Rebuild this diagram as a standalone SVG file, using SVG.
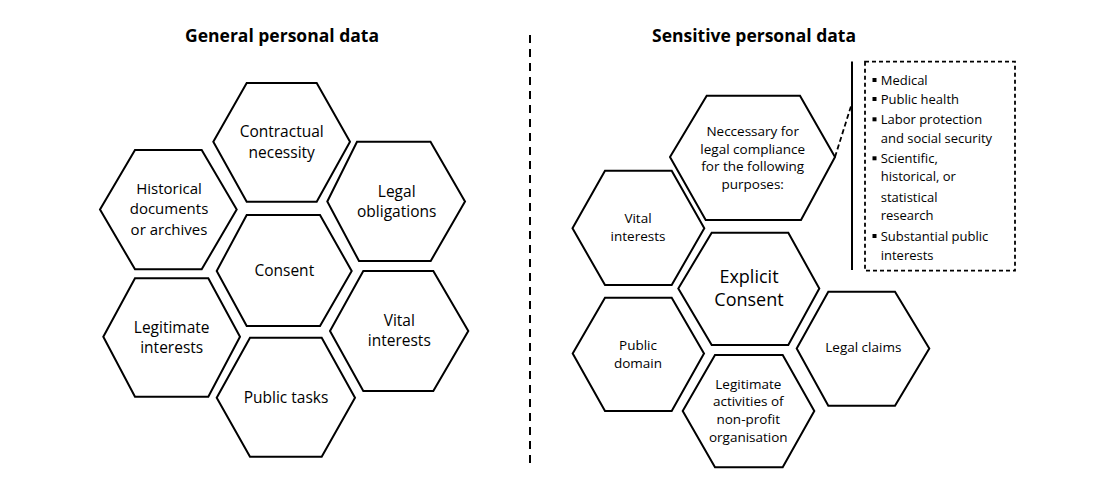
<svg xmlns="http://www.w3.org/2000/svg" width="1100" height="500" viewBox="0 0 1100 500">
  <style>
    .hex { fill: #ffffff; stroke: #000000; stroke-width: 2; stroke-linejoin: miter; }
    .t { font-family: "Open Sans", "Liberation Sans", sans-serif; fill: #000000; text-anchor: middle; }
    .tl { font-size: 15.5px; }
    .tm { font-size: 15px; }
    .tr { font-size: 13.5px; }
    .big { font-size: 18px; }
    .title { font-family: "Open Sans", "Liberation Sans", sans-serif; font-weight: bold; font-size: 17.5px; fill: #000000; text-anchor: middle; }
    .li { font-family: "Open Sans", "Liberation Sans", sans-serif; font-size: 13px; fill: #000000; }
    .bul { fill: #000000; }
  </style>
  <rect width="1100" height="500" fill="#ffffff"/>

  <text class="title" x="282" y="42">General personal data</text>
  <text class="title" x="754" y="42">Sensitive personal data</text>

  <g id="connectors">
    <line x1="530" y1="35" x2="530" y2="463" stroke="#000" stroke-width="2" stroke-dasharray="8,6"/>
    <line x1="852" y1="61.5" x2="852" y2="270" stroke="#000" stroke-width="2"/>
    <line x1="835" y1="157" x2="852" y2="103" stroke="#000" stroke-width="1.8" stroke-dasharray="5,3"/>
  </g>

  <!-- Left side -->
  <g id="contractual-necessity">
    <polygon class="hex" points="213.3,141.7 246.7,83 316.7,83 350,141.7 316.7,201.7 246.7,201.7"/>
    <text class="t tl" x="281.7" y="137">Contractual</text>
    <text class="t tl" x="281.7" y="158">necessity</text>
  </g>
  <g id="historical-documents">
    <polygon class="hex" points="100,209.5 135,150 201.7,150 236.7,209.5 201.7,269.3 135,269.3"/>
    <text class="t tm" x="169" y="193.5">Historical</text>
    <text class="t tm" x="169" y="214">documents</text>
    <text class="t tm" x="169" y="234.5">or archives</text>
  </g>
  <g id="legal-obligations">
    <polygon class="hex" points="327.3,201.5 357,141.7 430.5,141.7 465,201.5 430.7,261 359,261"/>
    <text class="t tl" x="396.7" y="197">Legal</text>
    <text class="t tl" x="396.7" y="217">obligations</text>
  </g>
  <g id="consent">
    <polygon class="hex" points="216.7,271 246.7,215 320,215 351.7,271 320,326 246.7,326"/>
    <text class="t tl" x="284.3" y="276.4">Consent</text>
  </g>
  <g id="legitimate-interests">
    <polygon class="hex" points="103.3,336.7 135,278.3 208.3,278.3 240,336.7 208.3,396.7 135,396.7"/>
    <text class="t tl" x="171.7" y="332.7">Legitimate</text>
    <text class="t tl" x="171.7" y="352.7">interests</text>
  </g>
  <g id="vital-interests-left">
    <polygon class="hex" points="330,331 363.3,271 433.3,271 468.3,331 433.3,391 363.3,391"/>
    <text class="t tl" x="399.3" y="326">Vital</text>
    <text class="t tl" x="399.3" y="346">interests</text>
  </g>
  <g id="public-tasks">
    <polygon class="hex" points="216.7,397.7 250,337.7 321.7,337.7 355,397.7 321.7,456.7 250,456.7"/>
    <text class="t tl" x="286" y="403">Public tasks</text>
  </g>

  <!-- Right side -->
  <g id="legal-compliance">
    <polygon class="hex" points="670,157 706.7,95.7 800,95.7 835,157 801,220 705.7,220"/>
    <text class="t tr" x="752.7" y="136">Neccessary for</text>
    <text class="t tr" x="752.7" y="153.5">legal compliance</text>
    <text class="t tr" x="752.7" y="171">for the following</text>
    <text class="t tr" x="752.7" y="189">purposes:</text>
  </g>
  <g id="vital-interests-right">
    <polygon class="hex" points="572.5,228.3 605,170.7 671.7,170.7 704.3,228.3 671.7,285 605,285"/>
    <text class="t tr" x="638" y="223">Vital</text>
    <text class="t tr" x="638" y="240.7">interests</text>
  </g>
  <g id="explicit-consent">
    <polygon class="hex" points="678.3,288.5 711.7,232.7 788.3,232.7 819.3,288.5 788.3,345 711.7,345"/>
    <text class="t big" x="749" y="283">Explicit</text>
    <text class="t big" x="749" y="305.6">Consent</text>
  </g>
  <g id="public-domain">
    <polygon class="hex" points="572.7,353.5 605,297.7 671.7,297.7 704,353.5 671.7,411 605,411"/>
    <text class="t tr" x="638" y="349.7">Public</text>
    <text class="t tr" x="638" y="368">domain</text>
  </g>
  <g id="legal-claims">
    <polygon class="hex" points="796.7,348.5 828.3,291.7 895,291.7 929.3,348.5 895,405.7 828.3,405.7"/>
    <text class="t tr" x="863.3" y="352.4">Legal claims</text>
  </g>
  <g id="nonprofit-activities">
    <polygon class="hex" points="682.7,411 715,355 782.7,355 814.3,411 782.7,467.3 715,467.3"/>
    <text class="t tr" x="748.3" y="389">Legitimate</text>
    <text class="t tr" x="748.3" y="406.4">activities of</text>
    <text class="t tr" x="748.3" y="424">non-profit</text>
    <text class="t tr" x="748.3" y="442">organisation</text>
  </g>

  <g id="purposes-list">
    <rect x="865" y="61.7" width="150" height="209" fill="none" stroke="#000" stroke-width="1.8" stroke-dasharray="4,3"/>
    <rect class="bul" x="872.5" y="78" width="4" height="4"/>
    <rect class="bul" x="872.5" y="97" width="4" height="4"/>
    <rect class="bul" x="872.5" y="117.3" width="4" height="4"/>
    <rect class="bul" x="872.5" y="156.3" width="4" height="4"/>
    <rect class="bul" x="872.5" y="234" width="4" height="4"/>
    <text class="li" x="880.7" y="84.6">Medical</text>
    <text class="li" x="880.7" y="103.6">Public health</text>
    <text class="li" x="880.7" y="124">Labor protection</text>
    <text class="li" x="880.7" y="143">and social security</text>
    <text class="li" x="880.7" y="163">Scientific,</text>
    <text class="li" x="880.7" y="181.3">historical, or</text>
    <text class="li" x="880.7" y="202">statistical</text>
    <text class="li" x="880.7" y="220.4">research</text>
    <text class="li" x="880.7" y="240.6">Substantial public</text>
    <text class="li" x="880.7" y="259.6">interests</text>
  </g>
</svg>
